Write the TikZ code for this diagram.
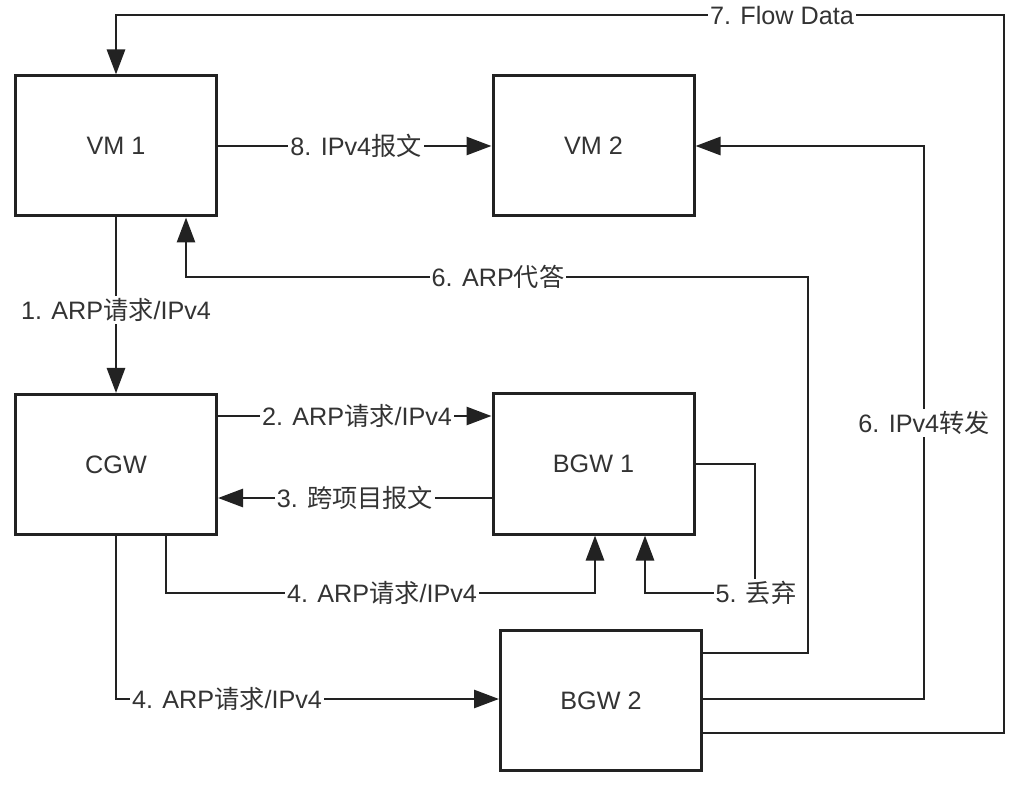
\documentclass[tikz,border=0pt]{standalone}
\usepackage{fontspec}
\setmainfont{Liberation Sans}
\newfontfamily\cjk{Noto Sans CJK SC}
\usetikzlibrary{arrows.meta}
\definecolor{ink}{HTML}{222222}
\definecolor{txt}{HTML}{333333}
\tikzset{
  box/.style={draw=ink, line width=1.5pt, fill=white, minimum width=100.5pt, minimum height=70pt, inner sep=0pt, text=txt, font=\fontsize{12.6}{15}\selectfont},
  conn/.style={draw=ink, line width=1.4pt},
  arr/.style={conn, -{Triangle[length=12.5pt,width=9pt]}},
  lbl/.style={fill=white, inner sep=1pt, text=txt, font=\fontsize{12.6}{15}\selectfont}
}
\begin{document}
\begin{tikzpicture}[x=0.5pt,y=-0.5pt]
\useasboundingbox (0,0) rectangle (1030,792);
% boxes
\node[box] (vm1) at (116,146) {VM 1};
\node[box] (vm2) at (593.5,146) {VM 2};
\node[box] (cgw) at (116,464.5) {CGW};
\node[box] (bgw1) at (593.5,464) {BGW 1};
\node[box] (bgw2) at (601,700.5) {BGW 2};
% corner coordinates
\coordinate (c7a) at (1004,733);
\coordinate (c7b) at (1004,15);
\coordinate (c7c) at (116,15);
\coordinate (c6a) at (924,699);
\coordinate (c6b) at (924,146);
\coordinate (c6c) at (808,653);
\coordinate (c6d) at (808,277);
\coordinate (c6e) at (186,277);
\coordinate (c2) at (300,416);
\coordinate (c3) at (300,498);
\coordinate (c4a) at (166,593);
\coordinate (c4b) at (595,593);
\coordinate (c4c) at (116,699);
\coordinate (c5a) at (755,464);
\coordinate (c5b) at (755,593);
\coordinate (c5c) at (645,593);
% connectors
\draw[arr] (bgw2.east |- c7a) -- (c7a) -- (c7b) -- (c7c) -- (vm1.north);
\draw[arr] (vm1.east) -- (vm2.west);
\draw[arr] (bgw2.east |- c6a) -- (c6a) -- (c6b) -- (vm2.east);
\draw[arr] (bgw2.east |- c6c) -- (c6c) -- (c6d) -- (c6e) -- (c6e |- vm1.south);
\draw[arr] (vm1.south) -- (cgw.north);
\draw[arr] (cgw.east |- c2) -- (bgw1.west |- c2);
\draw[arr] (bgw1.west |- c3) -- (cgw.east |- c3);
\draw[arr] (c4a |- cgw.south) -- (c4a) -- (c4b) -- (c4b |- bgw1.south);
\draw[arr] (cgw.south) -- (c4c) -- (bgw2.west |- c4c);
\draw[arr] (bgw1.east |- c5a) -- (c5a) -- (c5b) -- (c5c) -- (c5c |- bgw1.south);
% labels
\node[lbl] (l7) at (782,15) {7. Flow Data};
\node[lbl] (l8) at (356,146) {8. IPv4{\cjk 报文}};
\node[lbl] (l6b) at (924,423) {6. IPv4{\cjk 转发}};
\node[lbl] (l6a) at (498,277) {6. ARP{\cjk 代答}};
\node[lbl] (l1) at (116,310) {1. ARP{\cjk 请求}/IPv4};
\node[lbl] (l2) at (357,416) {2. ARP{\cjk 请求}/IPv4};
\node[lbl] (l3) at (355,498) {3. {\cjk 跨项目报文}};
\node[lbl] (l4a) at (382,593) {4. ARP{\cjk 请求}/IPv4};
\node[lbl] (l4b) at (227,699) {4. ARP{\cjk 请求}/IPv4};
\node[lbl] (l5) at (756,593) {5. {\cjk 丢弃}};
\end{tikzpicture}
\end{document}
